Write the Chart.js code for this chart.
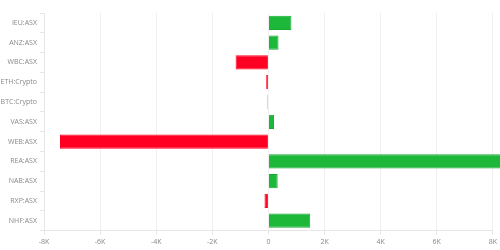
<!DOCTYPE html>
<html>
<head>
<meta charset="utf-8">
<script src="https://cdn.jsdelivr.net/npm/chart.js@4/dist/chart.umd.min.js"></script>
<style>
  html, body { margin: 0; padding: 0; background: #fff; }
  #wrap { width: 500px; height: 250px; }
</style>
</head>
<body>
<div id="wrap"><canvas id="pnlChart"></canvas></div>
<script>
// holdings and their gain/loss
var labels = ['IEU:ASX', 'ANZ:ASX', 'WBC:ASX', 'ETH:Crypto', 'BTC:Crypto', 'VAS:ASX',
              'WEB:ASX', 'REA:ASX', 'NAB:ASX', 'RXP:ASX', 'NHF:ASX'];
var values = [820, 360, -1170, -80, -35, 200, -7430, 8500, 330, -140, 1490];
var tickValues = [-8000, -6000, -4000, -2000, 0, 2000, 4000, 6000, 8000];

var green = '#1db83a', greenBorder = '#17aa33';
var red = '#ff0022', redBorder = '#ff0022';

Chart.defaults.font.family = '"Open Sans", sans-serif';
Chart.defaults.font.size = 7;
Chart.defaults.color = '#888';

var ctx = document.getElementById('pnlChart').getContext('2d');
var pnlChart = new Chart(ctx, {
    type: 'bar',
    data: {
        labels: labels,
        datasets: [{
            data: values,
            backgroundColor: values.map(function (v) { return v < 0 ? red : green; }),
            borderColor: values.map(function (v) { return v < 0 ? redBorder : greenBorder; }),
            borderWidth: 1,
            clip: false
        }]
    },
    options: {
        indexAxis: 'y',
        responsive: true,
        maintainAspectRatio: false,
        animation: false,
        layout: { padding: { top: 13, left: 0, right: 0, bottom: 1 } },
        plugins: {
            legend: { display: false },
            tooltip: { enabled: false }
        },
        scales: {
            x: {
                min: -8000,
                max: 8000,
                afterBuildTicks: function (axis) {
                    axis.ticks = tickValues.map(function (v) { return { value: v }; });
                },
                ticks: {
                    callback: function (v) { return v === 0 ? '0' : (v / 1000) + 'K'; },
                    maxRotation: 0
                },
                grid: { color: '#f0f0f0', tickColor: '#e6e6e6', tickLength: 4 },
                border: { color: '#e6e6e6' }
            },
            y: {
                ticks: { padding: 3 },
                grid: { drawOnChartArea: false, tickColor: '#e6e6e6', tickLength: 4 },
                border: { color: '#e6e6e6' },
                afterFit: function (axis) { axis.width = 44; }
            }
        }
    }
});
</script>
</body>
</html>
